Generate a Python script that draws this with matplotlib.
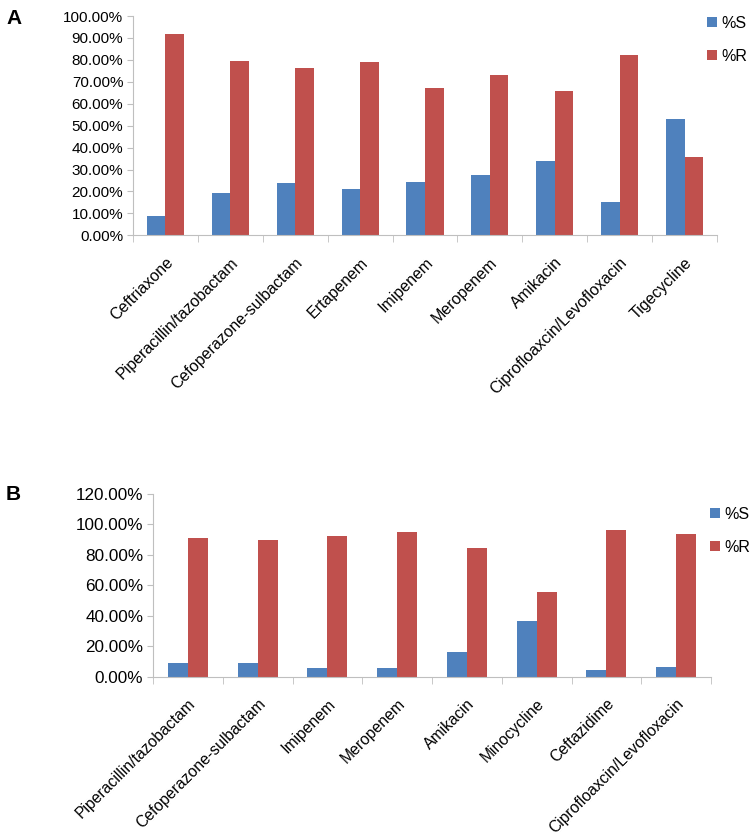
import matplotlib.pyplot as plt
import numpy as np
from matplotlib.ticker import PercentFormatter, FixedLocator

plt.rcParams['font.family'] = ['Liberation Sans', 'DejaVu Sans']

# Panel A data
drugs_a = ["Ceftriaxone", "Piperacillin/tazobactam", "Cefoperazone-sulbactam",
           "Ertapenem", "Imipenem", "Meropenem", "Amikacin",
           "Ciprofloaxcin/Levofloxacin", "Tigecycline"]
s_a = [8.6, 19.3, 24.0, 21.3, 24.4, 27.5, 33.9, 15.4, 53.1]
r_a = [91.6, 79.3, 76.5, 79.0, 67.0, 72.9, 65.7, 82.4, 35.6]

# Panel B data
drugs_b = ["Piperacillin/tazobactam", "Cefoperazone-sulbactam", "Imipenem",
           "Meropenem", "Amikacin", "Minocycline", "Ceftazidime",
           "Ciprofloaxcin/Levofloxacin"]
s_b = [9.1, 9.1, 5.4, 5.4, 16.1, 36.3, 4.2, 6.5]
r_b = [91.0, 89.8, 92.5, 94.9, 84.4, 55.9, 96.2, 93.8]

BLUE = "#4F81BD"
RED = "#C0504D"
GRAY = "#BFBFBF"
W, H = 750, 839


def panel(fig, rect_px, drugs, s, r, ymax, step, label, label_xy, legend_xy, fs, xfs):
    left, top, right, bottom = rect_px
    ax = fig.add_axes([left / W, 1 - bottom / H, (right - left) / W, (bottom - top) / H])
    x = np.arange(len(drugs))
    w = 1 / 3.5
    b1 = ax.bar(x - w / 2, s, w, color=BLUE, label="%S")
    b2 = ax.bar(x + w / 2, r, w, color=RED, label="%R")
    ax.set_xlim(-0.5, len(drugs) - 0.5)
    ax.set_ylim(0, ymax)
    ax.set_yticks(np.arange(0, ymax + 0.1, step))
    ax.yaxis.set_major_formatter(PercentFormatter(decimals=2))
    ax.set_xticks(x)
    ax.set_xticklabels(drugs, rotation=45, ha="right", rotation_mode="anchor")
    ax.tick_params(axis="x", length=0, pad=14, labelsize=xfs)
    ax.xaxis.set_minor_locator(FixedLocator(np.arange(-0.5, len(drugs), 1.0)))
    ax.tick_params(axis="x", which="minor", length=5, color=GRAY)
    ax.tick_params(axis="y", length=4, color=GRAY, labelsize=fs, pad=3)
    for sp in ["top", "right"]:
        ax.spines[sp].set_visible(False)
    for sp in ["left", "bottom"]:
        ax.spines[sp].set_color(GRAY)
    fig.text(label_xy[0] / W, 1 - label_xy[1] / H, label, fontsize=15,
             fontweight="bold", va="center", ha="left")
    fig.legend(handles=[b1, b2], loc="upper left",
               bbox_to_anchor=(legend_xy[0] / W, 1 - legend_xy[1] / H),
               frameon=False, fontsize=11.5, handlelength=0.6, handleheight=0.6,
               handletextpad=0.3, labelspacing=1.1, borderpad=0, borderaxespad=0)
    return ax


fig = plt.figure(figsize=(W / 100, H / 100), dpi=100)
panel(fig, (133, 16, 717, 235.3), drugs_a, s_a, r_a, 100, 10, "A", (6, 18), (707, 16), 11, 11.5)
panel(fig, (153, 494, 711, 676.7), drugs_b, s_b, r_b, 120, 20, "B", (6, 495), (710, 507), 12.3, 11.3)
fig.savefig("out.png", dpi=100)
